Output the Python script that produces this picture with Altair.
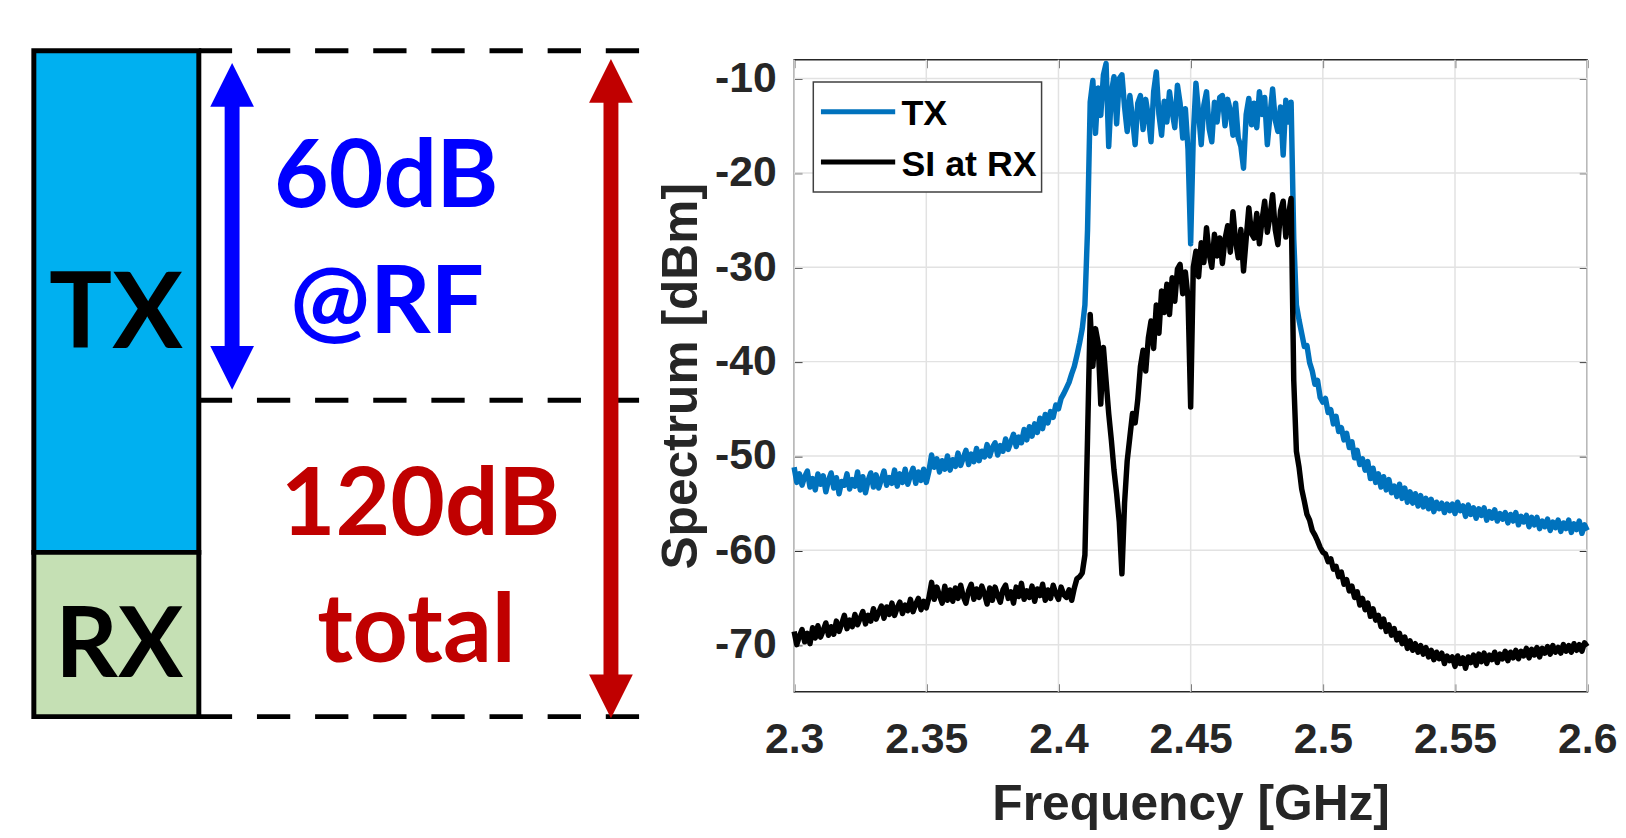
import altair as alt
import pandas as pd

# ---------------- spectrum data (1 MHz bins) ----------------
freq_ghz = [round(2.300 + 0.001 * i, 3) for i in range(301)]

tx_dbm = [
    -51.2, -52.8, -51.9, -53.1, -52.2, -51.6, -53.3, -52.4, -53.6, -51.9,  # 2.300
    -53.0, -52.1, -53.8, -52.6, -51.8, -53.4, -52.3, -54.0, -52.7, -53.1,  # 2.310
    -51.9, -53.5, -52.5, -53.2, -51.7, -53.6, -52.2, -53.9, -52.6, -51.8,  # 2.320
    -53.3, -52.0, -53.4, -52.5, -51.6, -53.1, -52.3, -52.9, -51.5, -53.2,  # 2.330
    -51.9, -52.8, -51.4, -53.0, -52.1, -51.3, -52.9, -51.7, -52.6, -51.4,  # 2.340
    -52.8, -51.6, -49.9, -51.2, -50.3, -51.7, -50.5, -51.4, -50.0, -51.5,  # 2.350
    -50.4, -51.1, -49.7, -51.0, -50.2, -49.4, -50.9, -49.8, -50.6, -49.2,  # 2.360
    -50.5, -49.5, -50.1, -48.8, -50.0, -49.1, -48.6, -49.9, -48.9, -49.5,  # 2.370
    -48.2, -49.3, -48.5, -47.7, -49.0, -48.0, -48.6, -47.2, -48.3, -46.9,  # 2.380
    -47.9, -46.6, -47.5, -46.0, -47.1, -45.6, -46.5, -45.3, -45.9, -44.6,  # 2.390
    -45.0, -43.9, -43.4, -42.8, -42.2, -41.3, -40.5, -39.3, -38.0, -36.5,  # 2.400
    -34.0, -26.0, -12.5, -10.2, -15.8, -11.0, -13.9, -9.6, -8.4, -17.2,    # 2.410
    -11.5, -9.8, -14.8, -10.0, -9.6, -13.0, -15.6, -11.8, -14.2, -17.0,    # 2.420
    -12.6, -11.8, -15.4, -12.2, -14.0, -16.7, -11.4, -9.3, -13.8, -16.0,   # 2.430
    -12.4, -14.6, -11.4, -13.5, -15.2, -10.7, -12.6, -16.3, -13.2, -17.5,  # 2.440
    -27.5, -16.0, -10.5, -13.6, -17.0, -12.8, -11.4, -15.3, -16.7, -12.5,  # 2.450
    -14.6, -12.0, -11.8, -15.0, -12.2, -13.4, -16.0, -12.6, -16.3, -17.2,  # 2.460
    -19.5, -13.8, -12.1, -14.9, -12.6, -15.2, -11.4, -13.8, -12.0, -17.0,  # 2.470
    -13.9, -11.1, -14.4, -15.6, -13.0, -18.1, -12.3, -14.6, -12.5, -27.0,  # 2.480
    -34.0, -35.6, -37.0, -38.4, -38.3, -40.1, -41.0, -42.4, -42.0, -43.8,  # 2.490
    -44.3, -43.9, -45.4, -45.1, -46.6, -45.8, -47.4, -47.0, -48.3, -47.6,  # 2.500
    -49.1, -48.5, -50.2, -49.4, -50.9, -50.3, -51.5, -50.6, -52.4, -51.3,  # 2.510
    -52.8, -51.9, -53.3, -52.2, -53.6, -52.5, -53.9, -53.2, -54.3, -53.0,  # 2.520
    -54.5, -53.4, -54.9, -53.8, -55.0, -54.0, -55.3, -54.2, -55.4, -54.5,  # 2.530
    -55.6, -54.6, -55.9, -54.9, -55.6, -55.0, -56.0, -55.1, -55.8, -55.1,  # 2.540
    -56.1, -54.9, -55.8, -55.3, -56.4, -55.2, -56.2, -55.5, -56.6, -55.6,  # 2.550
    -56.3, -55.5, -56.8, -55.9, -56.6, -55.7, -56.9, -56.1, -56.7, -56.0,  # 2.560
    -57.1, -56.2, -56.9, -56.0, -57.3, -56.4, -57.0, -56.3, -57.5, -56.5,  # 2.570
    -57.3, -56.5, -57.7, -56.9, -57.5, -56.7, -57.9, -57.0, -57.6, -56.8,  # 2.580
    -58.0, -57.1, -57.7, -56.8, -58.1, -57.2, -57.8, -56.9, -58.2, -57.3,  # 2.590
    -57.9,                                                                 # 2.600
]

si_dbm = [
    -68.6, -70.0, -69.1, -68.4, -69.7, -68.8, -69.9, -68.2, -69.3, -68.0,  # 2.300
    -69.2, -68.5, -67.7, -69.0, -68.1, -68.9, -67.5, -68.6, -67.8, -66.9,  # 2.310
    -68.3, -67.4, -68.1, -66.8, -67.9, -67.2, -66.5, -67.8, -66.9, -67.5,  # 2.320
    -66.2, -67.3, -66.6, -65.9, -67.2, -66.0, -66.8, -65.6, -66.9, -66.1,  # 2.330
    -65.5, -66.7, -65.8, -66.4, -65.2, -66.5, -65.7, -65.1, -66.3, -65.4,  # 2.340
    -66.1, -65.0, -63.4, -65.2, -63.9, -64.8, -65.6, -63.8, -65.3, -64.2,  # 2.350
    -65.4, -64.0, -65.1, -63.7, -64.9, -65.6, -64.3, -63.6, -65.2, -64.1,  # 2.360
    -65.0, -63.8, -64.6, -65.7, -64.0, -65.3, -63.9, -64.8, -65.5, -64.2,  # 2.370
    -63.7, -65.1, -64.4, -65.6, -63.9, -64.9, -63.5, -65.2, -64.3, -65.0,  # 2.380
    -63.8, -65.4, -64.1, -64.8, -63.6, -65.3, -64.2, -65.1, -63.7, -64.6,  # 2.390
    -65.2, -63.9, -64.7, -65.0, -64.2, -65.3, -64.0, -63.0, -62.8, -62.4,  # 2.400
    -60.5, -48.0, -35.0, -40.5, -36.5, -38.0, -44.5, -38.5, -42.0, -45.5,  # 2.410
    -48.3, -51.5, -54.0, -57.0, -62.5, -55.0, -50.5, -48.0, -45.5, -46.5,  # 2.420
    -44.0, -40.5, -38.8, -41.0, -37.5, -35.7, -38.6, -34.0, -37.0, -32.5,  # 2.430
    -34.8, -31.8, -35.0, -31.1, -33.6, -30.2, -29.7, -32.8, -30.5, -33.2,  # 2.440
    -44.8, -30.0, -28.3, -31.0, -27.4, -29.5, -25.8, -28.6, -30.0, -26.5,  # 2.450
    -28.8, -26.9, -29.6, -27.0, -25.6, -28.4, -24.1, -27.2, -29.0, -26.0,  # 2.460
    -30.4, -27.0, -23.7, -26.4, -26.9, -24.3, -27.5, -25.0, -23.0, -26.3,  # 2.470
    -24.6, -22.3, -26.0, -27.6, -24.0, -23.0, -26.8, -24.5, -22.7, -42.0,  # 2.480
    -49.5, -51.2, -53.5, -54.8, -56.2, -56.8, -57.9, -58.4, -59.0, -59.7,  # 2.490
    -60.2, -60.4, -61.2, -60.9, -62.0, -61.7, -62.8, -62.3, -63.6, -63.1,  # 2.500
    -64.3, -63.8, -65.0, -64.4, -65.8, -65.1, -66.3, -65.6, -67.0, -66.2,  # 2.510
    -67.4, -66.9, -68.1, -67.3, -68.6, -67.9, -69.0, -68.3, -69.5, -68.8,  # 2.520
    -69.9, -69.2, -70.4, -69.6, -70.6, -69.9, -70.8, -70.1, -71.0, -70.3,  # 2.530
    -71.3, -70.6, -71.6, -70.8, -71.5, -70.9, -72.0, -71.2, -71.7, -71.3,  # 2.540
    -72.3, -71.2, -72.0, -71.4, -72.5, -71.3, -71.9, -71.1, -72.2, -71.0,  # 2.550
    -71.8, -70.9, -72.0, -71.1, -71.6, -70.8, -71.9, -71.0, -71.5, -70.7,  # 2.560
    -71.7, -70.8, -71.4, -70.6, -71.5, -70.7, -71.2, -70.4, -71.4, -70.5,  # 2.570
    -71.1, -70.3, -71.3, -70.4, -70.9, -70.2, -71.0, -70.1, -70.8, -70.3,  # 2.580
    -70.9, -70.0, -70.7, -70.1, -70.8, -69.9, -70.6, -70.0, -70.7, -69.8,  # 2.590
    -70.2,                                                                 # 2.600
]

series_names = ["TX", "SI at RX"]
series_colors = ["#0072BD", "#000000"]
x_ticks = [2.3, 2.35, 2.4, 2.45, 2.5, 2.55, 2.6]
y_ticks = [-70, -60, -50, -40, -30, -20, -10]

# ---------------- schematic (left) data ----------------
block_names = ["TX", "RX"]
block_top = [0.0, -90.4]
block_bottom = [-90.4, -120.0]
block_left = [25, 25]
block_right = [191, 191]
block_fill = ["#00B0F0", "#C5E0B4"]

dash_levels = [0.0, -63.0, -120.0]
dash_start = 191
dash_end = 634

arrow_x = [224.5, 605.7]
arrow_tip_top = [-2.2, -1.5]
arrow_tip_bottom = [-61.1, -120.3]
arrow_color = ["#0000FF", "#C00000"]
head_units = 3.94  # half height of an arrow head in diagram units

label_text = ["60dB", "@RF", "120dB", "total", "TX", "RX"]
label_x = [379.5, 380.5, 414.0, 410.0, 107.6, 111.0]
label_y = [-28.1, -50.9, -87.2, -110.2, -53.6, -112.8]
label_color = ["#0000FF", "#0000FF", "#C00000", "#C00000", "#000000", "#000000"]
label_size = [95, 95, 95, 97, 106, 98]

# ---------------- tables ----------------
spec_df = pd.DataFrame({"f": freq_ghz, "tx": tx_dbm, "si": si_dbm})
blocks_df = pd.DataFrame({"name": block_names, "top": block_top, "bottom": block_bottom,
                          "x0": block_left, "x1": block_right, "fill": block_fill})
dash_df = pd.DataFrame({"level": dash_levels, "x0": [dash_start] * 3, "x1": [dash_end] * 3})
arrow_df = pd.DataFrame({"x": arrow_x, "t": arrow_tip_top, "b": arrow_tip_bottom, "c": arrow_color})
arrow_df["up"] = arrow_df["t"] - head_units
arrow_df["down"] = arrow_df["b"] + head_units
labels_df = pd.DataFrame({"text": label_text, "x": label_x, "y": label_y,
                          "c": label_color, "s": label_size})

# ---------------- left schematic ----------------
LW, LH = 640, 636
xs_l = alt.Scale(domain=[0, LW], nice=False, zero=False)
ys_l = alt.Scale(domain=[-115.53, -1.612], nice=False, zero=False)

blocks = alt.Chart(blocks_df).mark_rect(stroke="black", strokeWidth=5).encode(
    x=alt.X("x0:Q", scale=xs_l, axis=None), x2="x1:Q",
    y=alt.Y("top:Q", scale=ys_l, axis=None), y2="bottom:Q",
    fill=alt.Fill("fill:N", scale=None),
)
dashes = alt.Chart(dash_df).mark_rule(color="black", strokeWidth=5, strokeDash=[33.5, 25]).encode(
    x=alt.X("x0:Q", scale=xs_l, axis=None), x2="x1:Q",
    y=alt.Y("level:Q", scale=ys_l, axis=None),
)
shafts = alt.Chart(arrow_df).mark_rule(strokeWidth=15).encode(
    x=alt.X("x:Q", scale=xs_l, axis=None),
    y=alt.Y("up:Q", scale=ys_l, axis=None), y2="down:Q",
    color=alt.Color("c:N", scale=None),
)
heads_up = alt.Chart(arrow_df).mark_point(shape="M0,-1L1,1L-1,1Z", size=1936, filled=True,
                                          opacity=1, strokeWidth=0).encode(
    x=alt.X("x:Q", scale=xs_l, axis=None),
    y=alt.Y("up:Q", scale=ys_l, axis=None),
    color=alt.Color("c:N", scale=None),
)
heads_down = alt.Chart(arrow_df).mark_point(shape="M0,1L1,-1L-1,-1Z", size=1936, filled=True,
                                            opacity=1, strokeWidth=0).encode(
    x=alt.X("x:Q", scale=xs_l, axis=None),
    y=alt.Y("down:Q", scale=ys_l, axis=None),
    color=alt.Color("c:N", scale=None),
)
texts = alt.Chart(labels_df).mark_text(font="Lato", fontWeight="bold", align="center",
                                       baseline="alphabetic").encode(
    x=alt.X("x:Q", scale=xs_l, axis=None),
    y=alt.Y("y:Q", scale=ys_l, axis=None),
    text="text:N",
    color=alt.Color("c:N", scale=None),
    size=alt.Size("s:Q", scale=None),
)
left = alt.layer(blocks, dashes, shafts, heads_up, heads_down, texts).properties(
    width=LW, height=LH, view=alt.ViewBackground(stroke="transparent"))

# ---------------- right spectrum ----------------
RW, RH = 798, 636
INK = "#262626"
FONT = "Liberation Sans"
xs = alt.Scale(domain=[2.3, 2.6], nice=False, zero=False)
ys = alt.Scale(domain=[-75, -8], nice=False, zero=False)

grid_x = alt.Chart(pd.DataFrame({"v": x_ticks})).mark_rule(color="#E2E2E2", strokeWidth=1.5).encode(
    x=alt.X("v:Q", scale=xs, axis=alt.Axis(orient="top", offset=-8, tickSize=8, tickWidth=1.5,
                                            tickColor=INK, labels=False, domain=False, grid=False,
                                            title=None, values=x_ticks)),
)
grid_y = alt.Chart(pd.DataFrame({"v": y_ticks})).mark_rule(color="#E2E2E2", strokeWidth=1.5).encode(
    y=alt.Y("v:Q", scale=ys, axis=alt.Axis(orient="right", offset=-8, tickSize=8, tickWidth=1.5,
                                            tickColor=INK, labels=False, domain=False, grid=False,
                                            title=None, values=y_ticks)),
)
tx_line = alt.Chart(spec_df).mark_line(strokeWidth=5.5, color=series_colors[0],
                                       strokeJoin="round").encode(
    x=alt.X("f:Q", scale=xs, axis=alt.Axis(
        orient="bottom", offset=-8, tickSize=8, tickWidth=1.5, tickColor=INK, domain=False,
        grid=False, values=x_ticks, labelExpr="toString(datum.value)",
        labelFlush=False, labelOverlap=False, labelBound=False,
        labelFont=FONT, labelFontSize=43, labelFontWeight="bold", labelColor=INK,
        labelPadding=27, title="Frequency [GHz]", titleFont=FONT, titleFontSize=50,
        titleFontWeight="bold", titleColor=INK, titlePadding=18)),
    y=alt.Y("tx:Q", scale=ys, axis=alt.Axis(
        orient="left", offset=-8, tickSize=8, tickWidth=1.5, tickColor=INK, domain=False,
        grid=False, values=y_ticks, labelExpr="toString(datum.value)",
        labelFlush=False, labelOverlap=False,
        labelFont=FONT, labelFontSize=43, labelFontWeight="bold", labelColor=INK,
        labelPadding=18, title="Spectrum [dBm]", titleFont=FONT, titleFontSize=50,
        titleFontWeight="bold", titleColor=INK, titlePadding=8)),
)
si_line = alt.Chart(spec_df).mark_line(strokeWidth=5.5, color=series_colors[1],
                                       strokeJoin="round").encode(
    x=alt.X("f:Q", scale=xs, axis=None),
    y=alt.Y("si:Q", scale=ys, axis=None),
)

one = pd.DataFrame({"k": [0]})
leg_box = alt.Chart(one).mark_rect(fill="white", stroke="#404040", strokeWidth=1.5).encode(
    x=alt.value(19.3), x2=alt.value(249), y=alt.value(22.3), y2=alt.value(133))
leg_tx = alt.Chart(one).mark_rule(strokeWidth=5, color=series_colors[0]).encode(
    x=alt.value(27), x2=alt.value(101.7), y=alt.value(52.3))
leg_si = alt.Chart(one).mark_rule(strokeWidth=5, color=series_colors[1]).encode(
    x=alt.value(27), x2=alt.value(101.7), y=alt.value(103))
leg_tx_t = alt.Chart(one).mark_text(align="left", baseline="alphabetic", font=FONT,
                                    fontWeight="bold", fontSize=36, color="black").encode(
    x=alt.value(108), y=alt.value(65.5), text=alt.value(series_names[0]))
leg_si_t = alt.Chart(one).mark_text(align="left", baseline="alphabetic", font=FONT,
                                    fontWeight="bold", fontSize=36, color="black").encode(
    x=alt.value(108), y=alt.value(117), text=alt.value(series_names[1]))

right = alt.layer(grid_x, grid_y, tx_line, si_line, leg_box, leg_tx, leg_si, leg_tx_t, leg_si_t).resolve_axis(
    x="independent", y="independent").properties(
    width=RW, height=RH, view=alt.ViewBackground(stroke=INK, strokeWidth=1.5))

chart = alt.hconcat(left, right, spacing=150, bounds="flush").properties(
    padding={"left": 0, "top": 37.5, "right": 0, "bottom": 0},
    background="white",
)

chart.save("out.html", embed_options={"renderer": "svg", "actions": False})
